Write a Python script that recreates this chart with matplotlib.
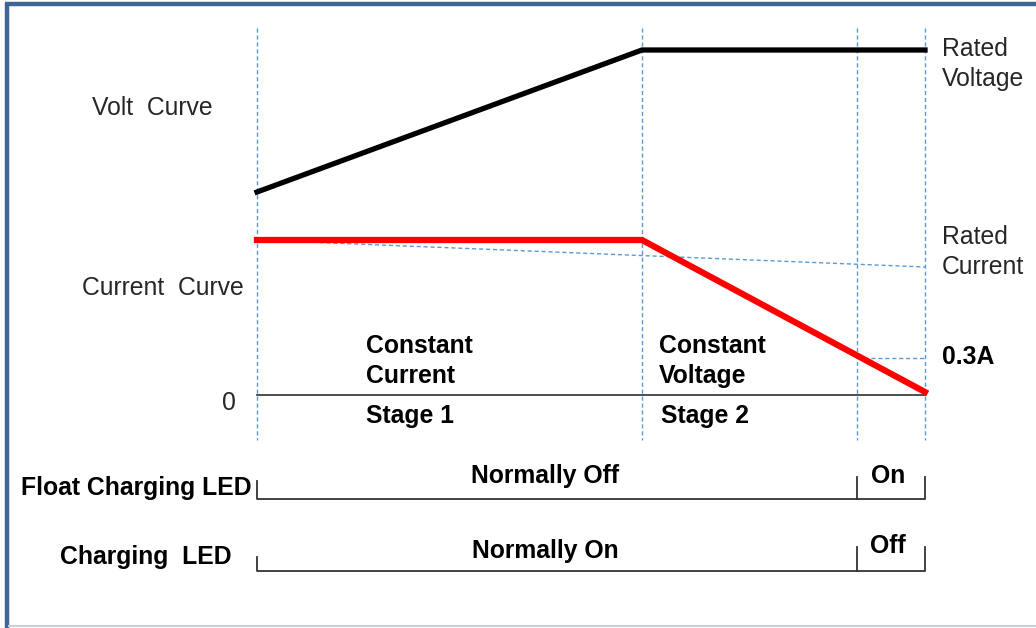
import matplotlib
matplotlib.use('Agg')
import matplotlib.pyplot as plt

plt.rcParams['font.family'] = ['Liberation Sans', 'DejaVu Sans']

# stage boundaries (x, in picture units)
stage_x = [257, 642, 857, 925]

# curves
volt_x = [257, 642, 925]
volt_y = [192, 50, 50]
curr_x = [257, 642, 925]
curr_y = [240, 240, 392]
rated_curr_x = [257, 925]
rated_curr_y = [240, 267]
low_curr_x = [857, 925]
low_curr_y = [358, 358]
zero_x = [257, 925]
zero_y = [395, 395]

# LED rows: baseline y, left tick top, state-change tick top
led_names = ['Float Charging LED', 'Charging  LED']
led_base = [499, 571]
led_left_top = [481, 557]
led_tick_top = [477, 547]
led_main_state = ['Normally Off', 'Normally On']
led_end_state = ['On', 'Off']

blue = '#5b9bd5'
fs = 17.8
txt = '#262626'

fig = plt.figure(figsize=(10.36, 6.28), dpi=100)
ax = fig.add_axes([0, 0, 1, 1])
ax.set_xlim(0, 1036)
ax.set_ylim(628, 0)
ax.axis('off')

# frame
ax.plot([7, 7], [3, 628], color='#3f6594', lw=3.2, solid_capstyle='butt')
ax.plot([5, 1036], [4, 4], color='#3f6594', lw=3.2, solid_capstyle='butt')
ax.plot([9, 1036], [626, 626], color='#c8d0da', lw=1.5)

# vertical stage guides
for x in stage_x:
    ax.plot([x, x], [28, 440], color=blue, lw=1.0, ls=(0, (3, 2)))

# guide lines
ax.plot(rated_curr_x, rated_curr_y, color=blue, lw=1.0, ls=(0, (3, 2)))
ax.plot(low_curr_x, low_curr_y, color=blue, lw=1.0, ls=(0, (3, 2)))
ax.plot(zero_x, zero_y, color='#404040', lw=1.3)

# curves
ax.plot(volt_x, volt_y, color='black', lw=3.8, solid_joinstyle='miter')
ax.plot(curr_x, curr_y, color='#ff0000', lw=4.5, solid_joinstyle='miter')

# left labels
ax.text(152, 108, 'Volt  Curve', fontsize=fs, ha='center', va='center', color=txt)
ax.text(163, 288, 'Current  Curve', fontsize=fs, ha='center', va='center', color=txt)
ax.text(229, 403, '0', fontsize=fs, ha='center', va='center', color=txt)

# right labels
ax.text(942, 64, 'Rated\nVoltage', fontsize=fs, ha='left', va='center',
        color=txt, linespacing=1.35)
ax.text(942, 252, 'Rated\nCurrent', fontsize=fs, ha='left', va='center',
        color=txt, linespacing=1.35)
ax.text(942, 357, '0.3A', fontsize=fs, ha='left', va='center', fontweight='bold')

# stage labels
ax.text(366, 361, 'Constant\nCurrent', fontsize=fs, ha='left', va='center',
        fontweight='bold', linespacing=1.35)
ax.text(366, 416, 'Stage 1', fontsize=fs, ha='left', va='center', fontweight='bold')
ax.text(659, 361, 'Constant\nVoltage', fontsize=fs, ha='left', va='center',
        fontweight='bold', linespacing=1.35)
ax.text(661, 416, 'Stage 2', fontsize=fs, ha='left', va='center', fontweight='bold')

# LED rows
name_x = [252, 146]
name_ha = ['right', 'center']
main_y = [476, 551]
end_y = [476, 546]
for i in range(len(led_names)):
    b = led_base[i]
    ax.plot([stage_x[0], stage_x[0], stage_x[3], stage_x[3]],
            [led_left_top[i], b, b, led_tick_top[i]], color='#333333', lw=1.3)
    ax.plot([stage_x[2], stage_x[2]], [led_tick_top[i], b], color='#333333', lw=1.3)
    ax.text(name_x[i], b - 11 - i * 3, led_names[i], fontsize=fs, ha=name_ha[i], va='center',
            fontweight='bold')
    ax.text(545, main_y[i], led_main_state[i], fontsize=fs, ha='center', va='center',
            fontweight='bold')
    ax.text(888, end_y[i], led_end_state[i], fontsize=fs, ha='center', va='center',
            fontweight='bold')

fig.savefig('out.png', dpi=100)
